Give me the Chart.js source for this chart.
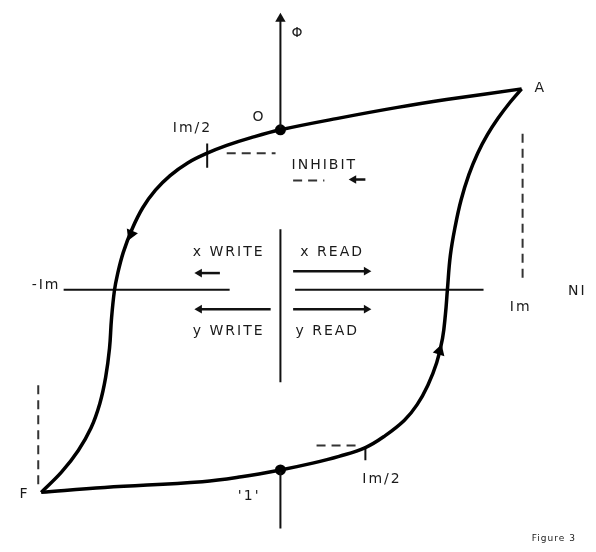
<!DOCTYPE html>
<html lang="en-US">
<meta charset="UTF-8">
<head>
    <title>Core Hysteresis Loop</title>
    <script src="https://cdn.jsdelivr.net/npm/chart.js@4.4.1/dist/chart.umd.min.js"></script>
    <style>
        body { margin: 0; background: #fff; }
        canvas { display: block; }
    </style>
</head>

<script>
    // flux (phi) against drive (H), origin where the axes cross
    var upperBranch = [ // A -> O -> Im/2 -> F, switching downward
        [247, 206], [170, 195], [120, 187], [60, 176], [0, 164], [-30, 156], [-55, 148], [-75, 140],
        [-95, 130], [-113, 117], [-128, 102], [-141, 84], [-152, 62], [-161, 38], [-167, 15],
        [-170, -1], [-173, -30], [-175, -60], [-179, -90], [-185, -117], [-194, -142],
        [-207, -165], [-224, -187], [-245, -208]
    ];
    var lowerBranch = [ // F -> 1 -> Im/2 -> A, switching upward
        [-245, -208], [-180, -203], [-80, -197], [-40, -192], [0, -185], [33, -178], [60, -171],
        [87, -162], [107, -150], [127, -134], [140, -118], [151, -98], [160, -75], [166, -50],
        [169, -25], [171, 0], [174, 35], [179, 65], [185, 92], [193, 118], [202, 140],
        [212, 159], [223, 176], [235, 192], [247, 206]
    ];
    var statePoints = [[0, 164], [0, -185]]; // "0" and "1"
    var branchArrows = [[-153, 57, 203], [163, -63, 17]]; // H, phi, heading in degrees

    // current pulses: [from H, to H, phi]
    var xWrite = [-62, -83, 17];
    var xRead = [13, 88, 19];
    var yWrite = [-10, -83, -20];
    var yRead = [13, 88, -20];
    var inhibit = [87, 75, 113];

    var hMin = -280, hMax = 316, phiMin = -262, phiMax = 290;

    function seg(a, b) {
        return [{ x: a[0], y: a[1] }, { x: b[0], y: b[1] }];
    }
    function pts(list) {
        return list.map(function (p) { return { x: p[0], y: p[1] }; });
    }
    function pulse(p) {
        return {
            data: seg([p[0], p[2]], [p[1], p[2]]),
            borderColor: '#111', borderWidth: 2.5, showLine: true,
            pointStyle: 'triangle', backgroundColor: '#111', pointBorderWidth: 0,
            pointRadius: [0, 5], pointRotation: p[1] > p[0] ? 90 : 270
        };
    }
    function dashed(a, b) {
        return {
            data: seg(a, b), borderColor: '#333', borderWidth: 2,
            borderDash: [9, 6], showLine: true, pointRadius: 0
        };
    }
    function plain(a, b, w) {
        return {
            data: seg(a, b), borderColor: '#111', borderWidth: w || 2,
            showLine: true, pointRadius: 0
        };
    }

    var labels = [
        { text: 'Φ', h: 18, phi: 263 },
        { text: 'O', h: -22, phi: 177 },
        { text: 'Im/2', h: -90, phi: 165 },
        { text: 'A', h: 266, phi: 207 },
        { text: 'INHIBIT', h: 45, phi: 128 },
        { text: 'x WRITE', h: -53, phi: 38 },
        { text: 'x READ', h: 53, phi: 38 },
        { text: 'y WRITE', h: -53, phi: -43 },
        { text: 'y READ', h: 48, phi: -43 },
        { text: 'Im', h: 246, phi: -18 },
        { text: '-Im', h: -240, phi: 4 },
        { text: 'NI', h: 304, phi: -2 },
        { text: 'F', h: -262, phi: -210 },
        { text: "'1'", h: -32, phi: -212 },
        { text: 'Im/2', h: 104, phi: -195 },
        { text: 'Figure 3', h: 280, phi: -255, size: 9 }
    ];

    var labelPlugin = {
        id: 'labels',
        beforeDraw: function (chart) {
            var ctx = chart.ctx;
            ctx.save();
            ctx.fillStyle = '#fff';
            ctx.fillRect(0, 0, chart.width, chart.height);
            ctx.restore();
        },
        afterDatasetsDraw: function (chart) {
            var ctx = chart.ctx;
            var sx = chart.scales.x, sy = chart.scales.y;
            ctx.save();
            ctx.fillStyle = '#1a1a1a';
            ctx.textAlign = 'center';
            ctx.textBaseline = 'middle';
            labels.forEach(function (l) {
                var size = l.size || 14;
                ctx.font = size + 'px "DejaVu Sans"';
                ctx.letterSpacing = (size > 10 ? 2 : 1) + 'px';
                ctx.fillText(l.text, sx.getPixelForValue(l.h), sy.getPixelForValue(l.phi));
            });
            ctx.restore();
        }
    };

    window.onload = function () {
        var datasets = [
            // hysteresis loop
            { data: pts(upperBranch), borderColor: '#000', borderWidth: 3.5, showLine: true, tension: 0.4, pointRadius: 0 },
            { data: pts(lowerBranch), borderColor: '#000', borderWidth: 3.5, showLine: true, tension: 0.4, pointRadius: 0 },
            // axes
            {
                data: seg([0, 278], [0, 164]), borderColor: '#111', borderWidth: 2, showLine: true,
                pointStyle: 'triangle', backgroundColor: '#111', pointBorderWidth: 0, pointRadius: [6, 0]
            },
            plain([0, 62], [0, -95]),
            plain([0, -185], [0, -245]),
            plain([-222, 0], [-52, 0]),
            plain([15, 0], [208, 0]),
            // saturation and half-select markers
            dashed([248, 160], [248, 8]),
            dashed([-248, -98], [-248, -205]),
            dashed([-55, 140], [-5, 140]),
            plain([-75, 150], [-75, 125]),
            dashed([37, -160], [77, -160]),
            plain([87, -161], [87, -175]),
            dashed([13, 112], [45, 112]),
            // drive pulses
            pulse(xWrite), pulse(xRead), pulse(yWrite), pulse(yRead), pulse(inhibit),
            // direction of travel round the loop
            {
                data: pts(branchArrows), pointStyle: 'triangle', backgroundColor: '#000',
                pointBorderWidth: 0, pointRadius: 7,
                pointRotation: branchArrows.map(function (a) { return a[2]; })
            },
            // remanent states
            { data: pts(statePoints), backgroundColor: '#000', pointBorderWidth: 0, pointRadius: 5.5 }
        ];

        var ctx = document.getElementById('loopChart').getContext('2d');
        new Chart(ctx, {
            type: 'scatter',
            data: { datasets: datasets },
            options: {
                responsive: false,
                devicePixelRatio: 1,
                animation: false,
                layout: { padding: 0 },
                plugins: { legend: { display: false }, tooltip: { enabled: false } },
                scales: {
                    x: { type: 'linear', min: hMin, max: hMax, display: false },
                    y: { type: 'linear', min: phiMin, max: phiMax, display: false }
                }
            },
            plugins: [labelPlugin]
        });
    };
</script>

<body>
    <canvas id="loopChart" width="596" height="552"></canvas>
</body>

</html>
